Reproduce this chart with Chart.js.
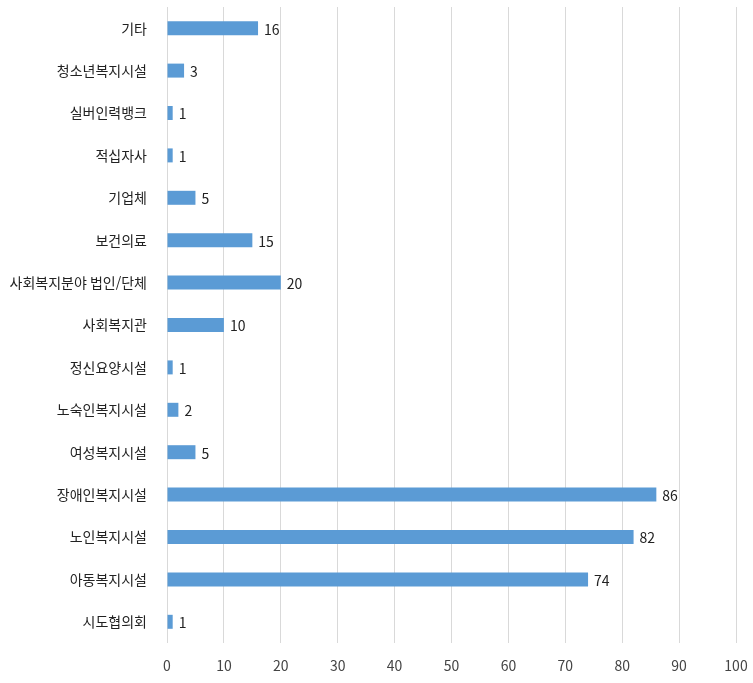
<!DOCTYPE html>
<html lang="ko">
<head>
<meta charset="UTF-8">
<title>기관별 분포</title>
<script src="https://cdn.jsdelivr.net/npm/chart.js"></script>
<style>
    body { margin: 0; background: #fff; }
    #wrap { width: 753px; height: 683px; }
</style>
</head>
<body>
<div id="wrap"><canvas id="grafico" width="753" height="683"></canvas></div>
<script>
    // dados (de cima para baixo)
    var categorias = ['기타', '청소년복지시설', '실버인력뱅크', '적십자사', '기업체', '보건의료',
        '사회복지분야 법인/단체', '사회복지관', '정신요양시설', '노숙인복지시설', '여성복지시설',
        '장애인복지시설', '노인복지시설', '아동복지시설', '시도협의회'];
    var valores = [16, 3, 1, 1, 5, 15, 20, 10, 1, 2, 5, 86, 82, 74, 1];
    var eixoMin = 0;
    var eixoMax = 100;
    var eixoPasso = 10;

    var fonte = "'Noto Sans CJK KR', 'Noto Sans', sans-serif";

    // rotulos com o valor na ponta de cada barra
    var rotulos = {
        id: 'rotulos',
        afterDatasetsDraw: function(chart) {
            var ctx = chart.ctx;
            var meta = chart.getDatasetMeta(0);
            ctx.save();
            ctx.font = '14px ' + fonte;
            ctx.fillStyle = '#222';
            ctx.textAlign = 'left';
            ctx.textBaseline = 'middle';
            meta.data.forEach(function(bar, i) {
                ctx.fillText(valores[i], bar.x + 6, bar.y + 1);
            });
            ctx.restore();
        }
    };

    var ctx = document.getElementById('grafico').getContext('2d');
    new Chart(ctx, {
        type: 'bar',
        data: {
            labels: categorias,
            datasets: [{
                data: valores,
                backgroundColor: '#5B9BD5',
                barPercentage: 0.5,
                categoryPercentage: 0.66
            }]
        },
        options: {
            indexAxis: 'y',
            responsive: false,
            animation: false,
            layout: { padding: { top: 7, right: 17, left: 0, bottom: 0 } },
            plugins: { legend: { display: false }, tooltip: { enabled: false } },
            scales: {
                x: {
                    min: eixoMin,
                    max: eixoMax,
                    ticks: { stepSize: eixoPasso, color: '#444', font: { family: fonte, size: 14 }, padding: 14 },
                    grid: { color: '#d9d9d9', drawTicks: false },
                    border: { display: false },
                    afterFit: function(s) { s.height = 40; s.paddingLeft = 0; s.paddingRight = 0; }
                },
                y: {
                    ticks: { color: '#222', font: { family: fonte, size: 14 }, padding: 12 },
                    grid: { display: false },
                    border: { display: false },
                    afterFit: function(s) { s.width = 167; s.paddingTop = 0; s.paddingBottom = 0; }
                }
            }
        },
        plugins: [rotulos]
    });
</script>
</body>
</html>
